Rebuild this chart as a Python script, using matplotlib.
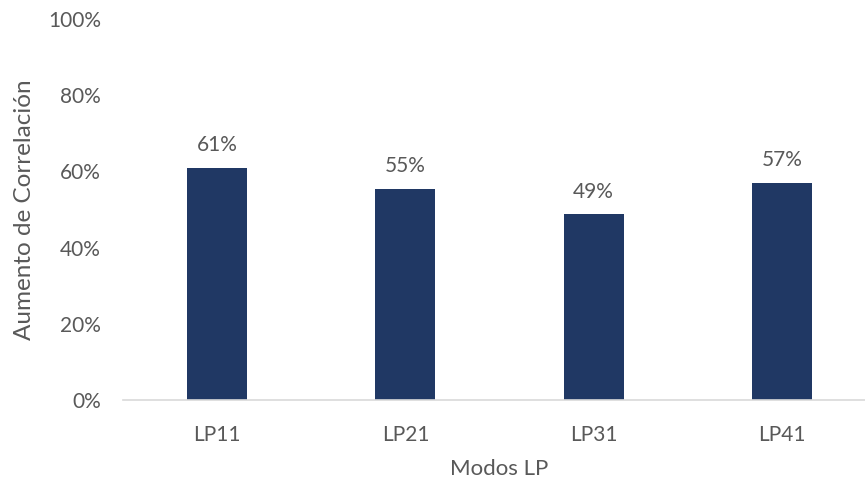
import matplotlib.pyplot as plt
from matplotlib.ticker import PercentFormatter

modos = ['LP11', 'LP21', 'LP31', 'LP41']
aumento = [0.61, 0.554, 0.488, 0.57]
etiquetas = ['61%', '55%', '49%', '57%']

plt.rcParams['font.family'] = ['Lato', 'DejaVu Sans']
gris = '#595959'

fig = plt.figure(figsize=(8.65, 4.83), dpi=100)
ax = fig.add_axes([123 / 865, 83 / 483, 753 / 865, 381 / 483])

bars = ax.bar(range(len(modos)), aumento, width=0.32, color='#203864')
for b, t in zip(bars, etiquetas):
    ax.annotate(t, (b.get_x() + b.get_width() / 2, b.get_height()),
                xytext=(0, 9), textcoords='offset points',
                ha='center', va='bottom', fontsize=15, color=gris)

ax.set_xlim(-0.5, 3.5)
ax.set_ylim(0, 1)
ax.set_yticks([0, 0.2, 0.4, 0.6, 0.8, 1.0])
ax.yaxis.set_major_formatter(PercentFormatter(1.0, decimals=0))
ax.set_xticks(range(len(modos)))
ax.set_xticklabels(modos)
ax.tick_params(axis='both', length=0, labelsize=15, labelcolor=gris)
ax.tick_params(axis='x', pad=18)
ax.tick_params(axis='y', pad=16)

for s in ['top', 'right', 'left']:
    ax.spines[s].set_visible(False)
ax.spines['bottom'].set_color('#d9d9d9')
ax.spines['bottom'].set_linewidth(1.2)

ax.set_xlabel('Modos LP', fontsize=16, color=gris, labelpad=10)
ax.set_ylabel('Aumento de Correlación', fontsize=17.5, color=gris, labelpad=9)

fig.savefig('out.png', dpi=100)
